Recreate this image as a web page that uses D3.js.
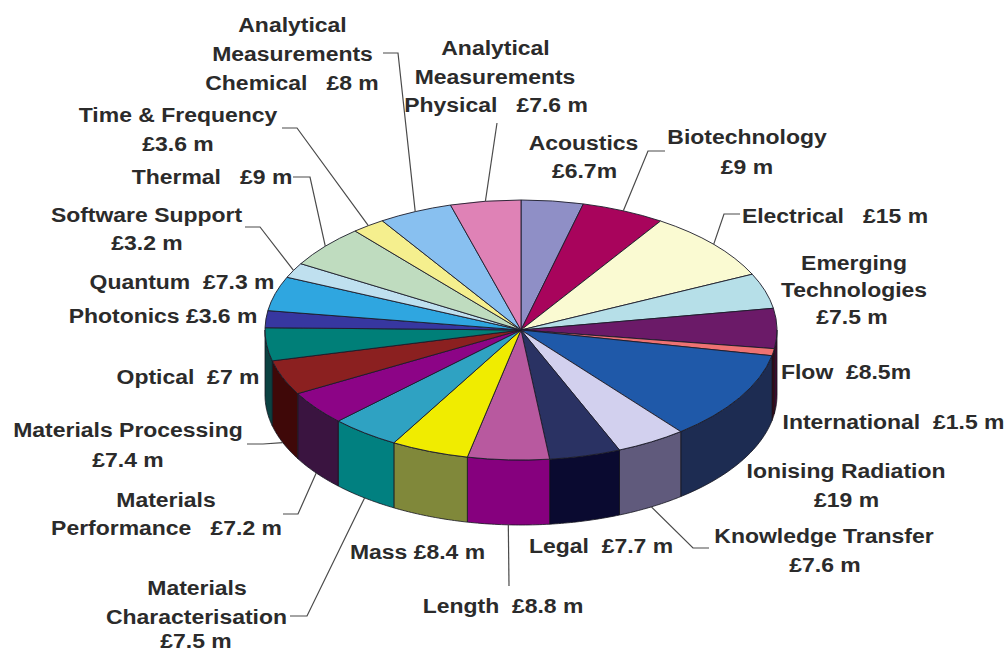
<!DOCTYPE html>
<html>
<head>
<meta charset="utf-8">
<script src="https://cdn.jsdelivr.net/npm/d3@7/dist/d3.min.js"></script>
<style>
  html, body { margin: 0; background: #fff; }
  svg { display: block; }
  text { font-family: "Liberation Sans", Arial, sans-serif; font-weight: 700; fill: #2b2b2b; white-space: pre; }
</style>
</head>
<body>
<svg id="chart" width="1006" height="652"></svg>
<script>
// Funding by programme, in £ million, clockwise from twelve o'clock.
const programmes = [
  "Acoustics", "Biotechnology", "Electrical", "Emerging Technologies", "Flow",
  "International", "Ionising Radiation", "Knowledge Transfer", "Legal", "Length",
  "Mass", "Materials Characterisation", "Materials Performance", "Materials Processing",
  "Optical", "Photonics", "Quantum", "Software Support", "Thermal", "Time & Frequency",
  "Analytical Measurements Chemical", "Analytical Measurements Physical"
];
const funding = [6.7, 9, 15, 7.5, 8.5, 1.5, 19, 7.6, 7.7, 8.8, 8.4, 7.5, 7.2, 7.4, 7, 3.6, 7.3, 3.2, 9, 3.6, 8, 7.6];

const labelLines = [
  ["Acoustics", "£6.7m"],
  ["Biotechnology", "£9 m"],
  ["Electrical   £15 m"],
  ["Emerging", "Technologies", "£7.5 m"],
  ["Flow  £8.5m"],
  ["International  £1.5 m"],
  ["Ionising Radiation", "£19 m"],
  ["Knowledge Transfer", "£7.6 m"],
  ["Legal  £7.7 m"],
  ["Length  £8.8 m"],
  ["Mass £8.4 m"],
  ["Materials", "Characterisation", "£7.5 m"],
  ["Materials", "Performance   £7.2 m"],
  ["Materials Processing", "£7.4 m"],
  ["Optical  £7 m"],
  ["Photonics £3.6 m"],
  ["Quantum  £7.3 m"],
  ["Software Support", "£3.2 m"],
  ["Thermal   £9 m"],
  ["Time & Frequency", "£3.6 m"],
  ["Analytical", "Measurements", "Chemical   £8 m"],
  ["Analytical", "Measurements", "Physical   £7.6 m"]
];

const topColours = [
  "#8f8fc6", "#a8045c", "#fafad2", "#b6dfe8", "#6b1a68", "#ee7272", "#1f59a9", "#d2d0ee",
  "#2a3263", "#b8599f", "#f0ec00", "#2fa2c2", "#8c0486", "#8b2020", "#007f78", "#3737a0",
  "#2fa6e0", "#bfe0ef", "#bfdcbf", "#f5ef8e", "#88c0f0", "#df82b6"
];
const wallColours = [
  "#4a4a70", "#56002e", "#7d7d69", "#5b7074", "#3d0a2e", "#3a0a18", "#1d2c52", "#605a7c",
  "#0a0a30", "#86007e", "#80883a", "#018080", "#3a1440", "#3f0808", "#0b4242", "#1c1c50",
  "#175370", "#607078", "#606e60", "#7a7848", "#446078", "#70415b"
];

// Centre of each label line: [x, baseline].
const labelAnchors = [
  [[583.5, 150], [584.5, 178]],
  [[747, 144], [747, 174]],
  [[835, 223]],
  [[854, 270], [854, 297], [852, 324]],
  [[846, 379]],
  [[893.5, 429]],
  [[846, 478], [846.5, 507]],
  [[824, 543], [825, 572]],
  [[601, 553]],
  [[503, 613]],
  [[417.5, 559]],
  [[197, 595], [196.5, 624], [196, 647.5]],
  [[166, 507], [166.5, 535]],
  [[128, 437], [128, 467]],
  [[188, 384]],
  [[163, 323]],
  [[182, 289]],
  [[146.5, 222], [147, 250]],
  [[212, 184]],
  [[178, 122], [178, 151]],
  [[292.5, 32], [292.5, 61], [292, 90]],
  [[495.5, 55], [495, 84], [496, 112]]
];

// Elbow points of the leader lines; each runs on to the rim of its slice.
const leaderPaths = {
  "Biotechnology": [[665, 151], [648, 151]],
  "Electrical": [[740, 214], [724, 214]],
  "Knowledge Transfer": [[709, 548], [693, 548]],
  "Length": [[509, 586]],
  "Materials Characterisation": [[290, 616], [307, 616]],
  "Materials Performance": [[283, 514], [298, 514]],
  "Materials Processing": [[247, 444], [263, 444]],
  "Software Support": [[245, 227], [260, 227]],
  "Thermal": [[293, 177], [310, 177]],
  "Time & Frequency": [[282, 128], [297, 128]],
  "Analytical Measurements Chemical": [[383, 53], [398, 53]],
  "Analytical Measurements Physical": [[497, 123]]
};

const cx = 521, cy = 330, rx = 256, ry = 130, depth = 65;
const svg = d3.select("#chart");

const slices = d3.pie().sort(null).value(d => d)(funding);

// Maps a clockwise-from-north angle onto the tilted disc; lift is the drop down the wall.
const rimPoint = (angle, lift = 0) => [cx + rx * Math.sin(angle), cy - ry * Math.cos(angle) + lift];

// Walls only show along the near half of the disc.
const wallFrom = Math.PI / 2, wallTo = 3 * Math.PI / 2;
const outline = d3.line();
const walls = slices
  .map(s => ({ index: s.index, a0: Math.max(s.startAngle, wallFrom), a1: Math.min(s.endAngle, wallTo) }))
  .filter(w => w.a1 > w.a0);

svg.append("g").selectAll("path").data(walls).join("path")
  .attr("d", w => {
    const steps = d3.range(0, 25).map(i => w.a0 + (w.a1 - w.a0) * i / 24);
    const upper = steps.map(a => rimPoint(a));
    const lower = steps.slice().reverse().map(a => rimPoint(a, depth));
    return outline(upper.concat(lower)) + "Z";
  })
  .attr("fill", w => wallColours[w.index])
  .attr("stroke", "#15151f")
  .attr("stroke-width", 0.8)
  .attr("stroke-linejoin", "round");

// The disc is a plain d3 arc squashed vertically to read as an ellipse.
const arc = d3.arc().innerRadius(0).outerRadius(rx);
svg.append("g")
  .attr("transform", `translate(${cx},${cy}) scale(1,${ry / rx})`)
  .selectAll("path").data(slices).join("path")
  .attr("d", arc)
  .attr("fill", s => topColours[s.index])
  .attr("stroke", "#1c1c2a")
  .attr("stroke-width", 0.9)
  .attr("stroke-linejoin", "round")
  .attr("vector-effect", "non-scaling-stroke");

// Leader lines finish on the top rim, or on the wall's lower edge for the near half.
const leaders = slices.filter(s => leaderPaths[programmes[s.index]]);
svg.append("g").selectAll("path").data(leaders).join("path")
  .attr("d", s => {
    const mid = (s.startAngle + s.endAngle) / 2;
    const near = mid > wallFrom && mid < wallTo;
    return outline([...leaderPaths[programmes[s.index]], rimPoint(mid, near ? depth : 0)]);
  })
  .attr("fill", "none")
  .attr("stroke", "#4a4a4a")
  .attr("stroke-width", 1.2);

// Labels are set slightly wide, one text element per line.
const lineRows = labelLines.flatMap((lines, i) =>
  lines.map((text, j) => ({ text, at: labelAnchors[i][j] })));
svg.append("g").selectAll("text").data(lineRows).join("text")
  .attr("transform", d => `translate(${d.at[0]},${d.at[1]}) scale(1.12,1)`)
  .attr("text-anchor", "middle")
  .attr("font-size", 20.5)
  .text(d => d.text);
</script>
</body>
</html>
